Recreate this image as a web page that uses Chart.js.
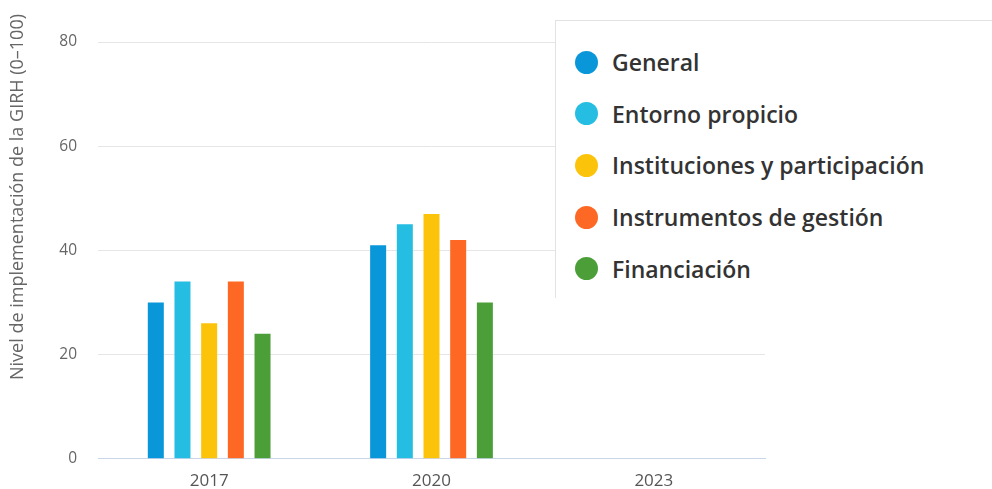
<!DOCTYPE html>
<html lang="es">
<head>
<meta charset="utf-8">
<script src="https://cdn.jsdelivr.net/npm/chart.js@4"></script>
<style>
  html, body { margin: 0; padding: 0; background: #fff; }
  #wrap { position: relative; width: 992px; height: 489px; overflow: hidden; }
  #leyenda {
    position: absolute; left: 555px; top: 20px; width: 437px; height: 278px;
    background: #fff; border-top: 1px solid #e2e2e2; border-left: 1px solid #e2e2e2;
    box-sizing: border-box; font-family: "Open Sans", sans-serif;
  }
  .item { position: absolute; left: 19px; height: 30px; display: flex; align-items: center; }
  .dot { width: 23px; height: 23px; border-radius: 50%; margin-right: 14px; }
  .txt { font-size: 23px; font-weight: 600; color: #333; white-space: nowrap; }
</style>
</head>
<body>
<div id="wrap">
  <canvas id="grafico" width="992" height="489"></canvas>
  <div id="leyenda"></div>
</div>
<script>
// Datos del gráfico
const anios = ["2017", "2020", "2023"];
const series = ["General", "Entorno propicio", "Instituciones y participación", "Instrumentos de gestión", "Financiación"];
const general = [30, 41, null];
const entorno = [34, 45, null];
const instituciones = [26, 47, null];
const instrumentos = [34, 42, null];
const financiacion = [24, 30, null];
const colores = ["#0a97d9", "#26bde2", "#fcc30b", "#fd6925", "#4c9f38"];
const ticksY = [0, 20, 40, 60, 80];
const tituloY = "Nivel de implementación de la GIRH (0–100)";

const valores = [general, entorno, instituciones, instrumentos, financiacion];

const datasets = series.map((nombre, i) => ({
  label: nombre,
  data: valores[i],
  backgroundColor: colores[i],
  borderWidth: 0,
  categoryPercentage: 0.6,
  barPercentage: 0.6,
}));

// Título del eje Y, dibujado algo más arriba que el centro del área
const tituloPlugin = {
  id: "tituloY",
  afterDraw(chart) {
    const ctx = chart.ctx;
    ctx.save();
    ctx.translate(18, 197);
    ctx.rotate(-Math.PI / 2);
    ctx.font = "18px 'Open Sans'";
    ctx.fillStyle = "#666";
    ctx.textAlign = "center";
    ctx.textBaseline = "middle";
    ctx.fillText(tituloY, 0, 0);
    ctx.restore();
  },
};

new Chart(document.querySelector("#grafico"), {
  type: "bar",
  data: { labels: anios, datasets },
  plugins: [tituloPlugin],
  options: {
    responsive: false,
    animation: false,
    layout: { padding: { top: 42, right: 227, bottom: 0, left: 0 } },
    plugins: { legend: { display: false }, tooltip: { enabled: false } },
    scales: {
      x: {
        grid: { display: false, drawTicks: false },
        border: { color: "#ccd6eb", width: 1 },
        ticks: {
          color: "#555",
          font: { family: "Open Sans", size: 17 },
          padding: 12,
          maxRotation: 0,
        },
        afterFit(scale) { scale.height = 30; },
      },
      y: {
        min: 0,
        max: 80,
        afterBuildTicks(scale) { scale.ticks = ticksY.map((v) => ({ value: v })); },
        grid: { color: "#e6e6e6", drawTicks: false },
        border: { display: false },
        ticks: {
          color: "#666",
          font: { family: "Open Sans", size: 15.5 },
          padding: 21,
        },
        afterFit(scale) { scale.width = 98; },
      },
    },
  },
});

// Leyenda HTML superpuesta
const leyenda = document.querySelector("#leyenda");
series.forEach((nombre, i) => {
  const item = document.createElement("div");
  item.className = "item";
  item.style.top = (26 + i * 51.7) + "px";
  item.innerHTML = `<span class="dot" style="background:${colores[i]}"></span><span class="txt">${nombre}</span>`;
  leyenda.appendChild(item);
});
</script>
</body>
</html>
